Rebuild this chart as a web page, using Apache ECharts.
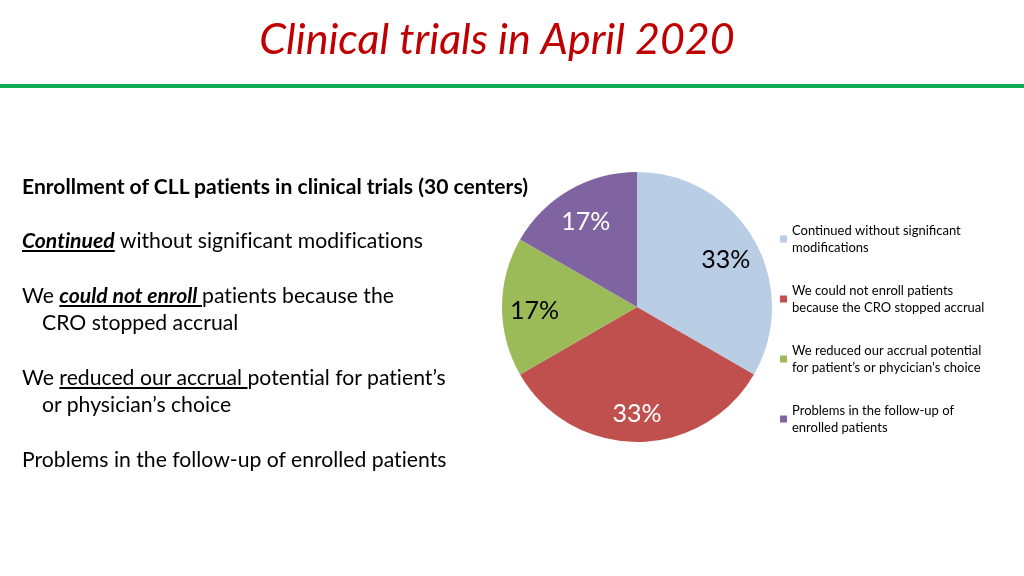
<!DOCTYPE html>
<html>
<head>
<meta charset="utf-8">
<script src="https://cdn.jsdelivr.net/npm/echarts@6/dist/echarts.min.js"></script>
<style>
  html, body { margin: 0; padding: 0; background: #fff; }
  #wrap { position: relative; width: 1024px; height: 576px; overflow: hidden; }
  #chart { position: absolute; left: 0; top: 0; width: 1024px; height: 576px; }
  #notes { position: absolute; left: 22px; top: 172px; font-family: Lato, sans-serif; color: #000;
           font-variant-ligatures: none; white-space: nowrap; }
  #notes .head { font-weight: bold; font-size: 21.1px; line-height: 28px; margin-bottom: 27px; }
  #notes p { margin: 0 0 28px 0; font-size: 21.2px; line-height: 27px; }
  #notes p .rest { display: block; padding-left: 20px; }
  #notes b { font-style: italic; }
</style>
</head>
<body>
<div id="wrap">
  <div id="chart"></div>
  <div id="notes">
    <div class="head">Enrollment of CLL patients in clinical trials (30 centers)</div>
    <p><b><u>Continued</u></b> without significant modifications</p>
    <p>We <b><u>could not enroll </u></b>patients because the<span class="rest">CRO stopped accrual</span></p>
    <p>We <u>reduced our accrual </u>potential for patient’s<span class="rest">or physician’s choice</span></p>
    <p>Problems in the follow-up of enrolled patients</p>
  </div>
</div>
<script>
const categories = [
  "Continued without significant\nmodifications",
  "We could not enroll patients\nbecause the CRO stopped accrual",
  "We reduced our accrual potential\nfor patient’s or phycician's choice",
  "Problems in the follow-up of\nenrolled patients"
];
const centers = [10, 10, 5, 5];
const sliceColors = ["#B9CDE5", "#C0504D", "#9BBB59", "#8064A2"];
const labelColors = ["#000000", "#ffffff", "#000000", "#ffffff"];

const chart = echarts.init(document.getElementById("chart"));

const pieData = categories.map((name, i) => ({
  name: name,
  value: centers[i],
  itemStyle: { color: sliceColors[i] }
}));

// transparent ring carrying the percentage labels (puts them at ~3/4 radius)
const labelData = categories.map((name, i) => ({
  name: name,
  value: centers[i],
  label: { color: labelColors[i] }
}));

chart.setOption({
  animation: false,
  title: {
    text: "Clinical trials in April 2020",
    left: 492,
    textAlign: "center",
    top: 14,
    textStyle: {
      color: "#C00000",
      fontFamily: "Lato",
      fontStyle: "italic",
      fontWeight: "normal",
      fontSize: 43
    }
  },
  graphic: [
    {
      type: "rect",
      shape: { x: 0, y: 84, width: 1024, height: 4 },
      style: { fill: "#10A955" }
    }
  ],
  legend: {
    orient: "vertical",
    left: 775,
    top: 217,
    itemGap: 26,
    itemWidth: 7,
    itemHeight: 7,
    icon: "rect",
    data: categories,
    textStyle: {
      fontFamily: "Lato",
      fontSize: 13,
      lineHeight: 17,
      color: "#000"
    }
  },
  series: [
    {
      type: "pie",
      center: [637, 307],
      radius: [0, 135],
      startAngle: 90,
      clockwise: true,
      silent: true,
      label: { show: false },
      labelLine: { show: false },
      data: pieData
    },
    {
      type: "pie",
      center: [637, 307],
      radius: [64, 135],
      startAngle: 90,
      clockwise: true,
      silent: true,
      legendHoverLink: false,
      itemStyle: { color: "rgba(0,0,0,0)" },
      label: {
        show: true,
        position: "inside",
        formatter: (p) => Math.round(p.percent) + "%",
        fontFamily: "Lato",
        fontSize: 25,
        offset: [0, 4]
      },
      labelLine: { show: false },
      data: labelData
    }
  ]
});
</script>
</body>
</html>
